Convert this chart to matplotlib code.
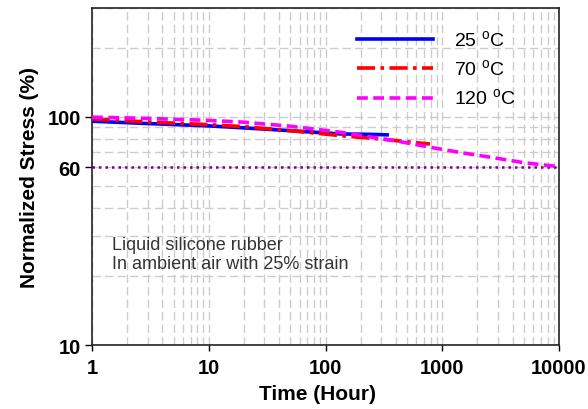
import matplotlib
matplotlib.use("Agg")
import matplotlib.pyplot as plt
from matplotlib.ticker import LogLocator, FixedLocator, FixedFormatter, NullFormatter

plt.rcParams['font.family'] = ['Liberation Sans', 'DejaVu Sans']

# data (hours, % of initial stress)
t_25 = [1, 3, 10, 20, 50, 133, 250, 337]
s_25 = [95.7, 93.5, 91.3, 89.5, 87.0, 84.2, 83.8, 83.4]

t_70 = [1, 3, 10, 20, 50, 133, 337, 600, 785]
s_70 = [98.0, 95.0, 92.5, 90.6, 87.0, 82.8, 79.5, 77.0, 76.1]

t_120 = [1, 3, 10, 20, 50, 133, 435, 785, 1500, 2566, 5000, 10000]
s_120 = [99.7, 98.5, 96.5, 94.8, 91.0, 85.7, 77.9, 73.6, 69.5, 66.6, 63.0, 60.5]

limit_t = [1, 10000]
limit_s = [60, 60]

fig = plt.figure(figsize=(5.88, 4.10), dpi=100)
ax = fig.add_axes([0.1565, 0.156, 0.7942, 0.822])

ax.plot(t_25, s_25, color='#0000ff', lw=2.6, ls='-', label='25 $^{\\mathregular{o}}$C', zorder=3)
ax.plot(t_70, s_70, color='#ff0000', lw=2.6, ls=(0, (5, 1.5, 1, 1.5)), label='70 $^{\\mathregular{o}}$C', zorder=4)
ax.plot(t_120, s_120, color='#ff00ff', lw=2.6, ls=(0, (3, 1.5)), label='120 $^{\\mathregular{o}}$C', zorder=5)
ax.plot(limit_t, limit_s, color='#800080', lw=1.8, ls=(0, (1, 1.6)), zorder=2)

ax.set_xscale('log')
ax.set_yscale('log')
ax.set_xlim(1, 10000)
ax.set_ylim(10, 300)

ax.xaxis.set_major_locator(FixedLocator([1, 10, 100, 1000, 10000]))
ax.xaxis.set_major_formatter(FixedFormatter(['1', '10', '100', '1000', '10000']))
ax.xaxis.set_minor_locator(LogLocator(base=10, subs=range(2, 10)))
ax.xaxis.set_minor_formatter(NullFormatter())

ax.yaxis.set_major_locator(FixedLocator([10, 60, 100]))
ax.yaxis.set_major_formatter(FixedFormatter(['10', '60', '100']))
ax.yaxis.set_minor_locator(LogLocator(base=10, subs=range(2, 10)))
ax.yaxis.set_minor_formatter(NullFormatter())

ax.grid(True, which='both', color='#cccccc', ls=(0, (6, 3)), lw=1.0)
ax.set_axisbelow(True)

ax.tick_params(axis='x', which='major', direction='out', length=4, width=1, labelsize=14.5, pad=5)
ax.tick_params(axis='y', which='major', direction='out', length=5, width=1, labelsize=14.5, pad=3)
ax.tick_params(which='minor', length=0)
for lab in ax.get_xticklabels() + ax.get_yticklabels():
    lab.set_fontweight('bold')

for sp in ax.spines.values():
    sp.set_color('#222222')
    sp.set_linewidth(1.2)

ax.set_xlabel('Time (Hour)', fontsize=15, fontweight='bold', labelpad=7)
ax.xaxis.set_label_coords(0.483, -0.115)
ax.set_ylabel('Normalized Stress (%)', fontsize=15, fontweight='bold', labelpad=6)

ax.text(0.043, 0.325, 'Liquid silicone rubber\nIn ambient air with 25% strain',
        transform=ax.transAxes, fontsize=13, color='#333333', linespacing=1.2,
        va='top', ha='left')

leg = ax.legend(loc='upper right', bbox_to_anchor=(0.945, 0.99), frameon=False,
                fontsize=14, handlelength=3.9, handletextpad=1.1, labelspacing=0.45)

fig.savefig('out.png', dpi=100)
